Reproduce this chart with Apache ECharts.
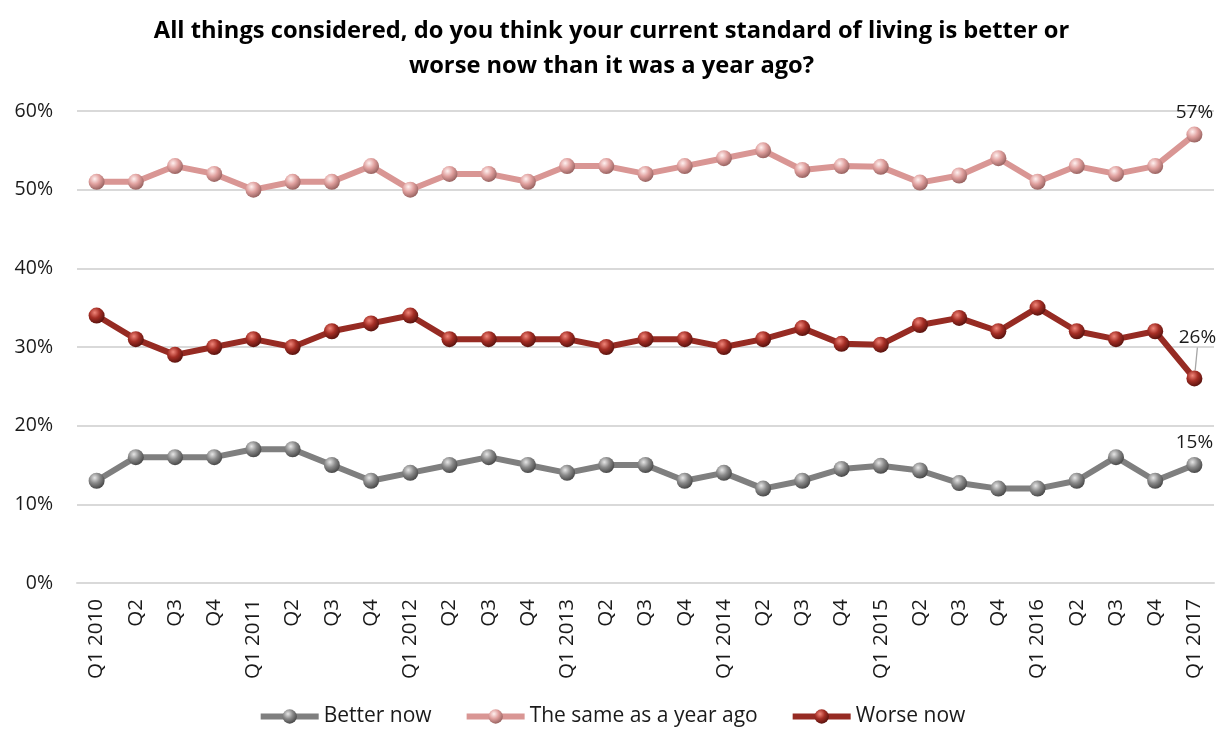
<!DOCTYPE html>
<html>
<head>
<meta charset="utf-8">
<script src="https://cdn.jsdelivr.net/npm/echarts@6/dist/echarts.min.js"></script>
<style>
  html, body { margin: 0; padding: 0; background: #fff; }
  #chart { width: 1223px; height: 732px; }
</style>
</head>
<body>
<div id="chart"></div>
<script>
// Quarterly survey: standard of living compared with a year ago (%)
const quarters = [
  'Q1 2010', 'Q2', 'Q3', 'Q4',
  'Q1 2011', 'Q2', 'Q3', 'Q4',
  'Q1 2012', 'Q2', 'Q3', 'Q4',
  'Q1 2013', 'Q2', 'Q3', 'Q4',
  'Q1 2014', 'Q2', 'Q3', 'Q4',
  'Q1 2015', 'Q2', 'Q3', 'Q4',
  'Q1 2016', 'Q2', 'Q3', 'Q4',
  'Q1 2017'
];
const betterNow = [13, 16, 16, 16, 17, 17, 15, 13, 14, 15, 16, 15, 14, 15, 15, 13, 14, 12, 13, 14.5, 14.9, 14.3, 12.7, 12, 12, 13, 16, 13, 15];
const sameAsYearAgo = [51, 51, 53, 52, 50, 51, 51, 53, 50, 52, 52, 51, 53, 53, 52, 53, 54, 55, 52.5, 53, 52.9, 50.9, 51.8, 54, 51, 53, 52, 53, 57];
const worseNow = [34, 31, 29, 30, 31, 30, 32, 33, 34, 31, 31, 31, 31, 30, 31, 31, 30, 31, 32.4, 30.4, 30.3, 32.8, 33.7, 32, 35, 32, 31, 32, 26];
const yTicks = [0, 10, 20, 30, 40, 50, 60];

const seriesNames = ['Better now', 'The same as a year ago', 'Worse now'];
const seriesColors = ['#7f7f7f', '#d99694', '#962b23'];
// shaded ball markers: highlight, body, rim
const ballShades = [
  ['#e6e6e6', '#8a8a8a', '#3d3d3d'],
  ['#fff1f0', '#e0a09e', '#8c5856'],
  ['#f0867a', '#a52e25', '#4d0e0a']
];

const FONT = 'Open Sans';
const lastIdx = quarters.length - 1;

function ball(i) {
  const s = ballShades[i];
  return {
    type: 'radial', x: 0.38, y: 0.32, r: 0.75,
    colorStops: [
      { offset: 0, color: s[0] },
      { offset: 0.45, color: s[1] },
      { offset: 1, color: s[2] }
    ]
  };
}

// Only the latest quarter carries a value label
function withEndLabel(values, leader) {
  return values.map((v, idx) => {
    if (idx !== lastIdx) return v;
    const item = { value: v, label: { show: true } };
    if (leader) item.labelLine = { show: true };
    return item;
  });
}

function makeSeries(i, values, leader) {
  const s = {
    name: seriesNames[i],
    type: 'line',
    data: withEndLabel(values, leader),
    symbol: 'circle',
    symbolSize: 16,
    lineStyle: { color: seriesColors[i], width: 6 },
    itemStyle: { color: ball(i), borderWidth: 0 },
    z: 3 + i,
    label: {
      show: false,
      position: 'top',
      distance: 5,
      fontFamily: FONT,
      fontSize: 19,
      color: '#1a1a1a',
      formatter: p => Math.round(p.value) + '%'
    },
    labelLine: { show: false, lineStyle: { color: '#a6a6a6', width: 1.3 } },
    emphasis: { disabled: true }
  };
  if (leader) {
    s.labelLayout = p => (p.dataIndex === lastIdx ? { dy: -18, dx: 3 } : {});
  }
  return s;
}

const option = {
  backgroundColor: '#ffffff',
  animation: false,
  title: {
    text: 'All things considered, do you think your current standard of living is better or\nworse now than it was a year ago?',
    left: 'center',
    top: 9,
    textStyle: {
      fontFamily: FONT,
      fontWeight: 'bold',
      fontSize: 23.7,
      lineHeight: 35,
      color: '#000'
    }
  },
  legend: {
    bottom: 0,
    left: 'center',
    itemWidth: 58,
    itemHeight: 18,
    itemGap: 32,
    data: seriesNames,
    lineStyle: { width: 6 },
    textStyle: { fontFamily: FONT, fontSize: 21, color: '#1a1a1a' }
  },
  grid: { left: 77, right: 9, top: 111, bottom: 149 },
  xAxis: {
    type: 'category',
    data: quarters,
    boundaryGap: true,
    axisLine: { lineStyle: { color: '#d9d9d9', width: 2 } },
    axisTick: { show: false },
    axisLabel: {
      rotate: 90,
      interval: 0,
      margin: 16,
      fontFamily: FONT,
      fontSize: 20.5,
      color: '#1a1a1a'
    }
  },
  yAxis: {
    type: 'value',
    min: yTicks[0],
    max: yTicks[yTicks.length - 1],
    interval: 10,
    axisLine: { show: false },
    axisTick: { show: false },
    splitLine: { lineStyle: { color: '#d9d9d9', width: 2 } },
    axisLabel: {
      margin: 24,
      fontFamily: FONT,
      fontSize: 19.5,
      color: '#1a1a1a',
      formatter: v => v + '%'
    }
  },
  series: [
    makeSeries(0, betterNow, false),
    makeSeries(1, sameAsYearAgo, false),
    makeSeries(2, worseNow, true)
  ]
};

const chart = echarts.init(document.getElementById('chart'), null, { renderer: 'canvas' });
chart.setOption(option);
</script>
</body>
</html>
